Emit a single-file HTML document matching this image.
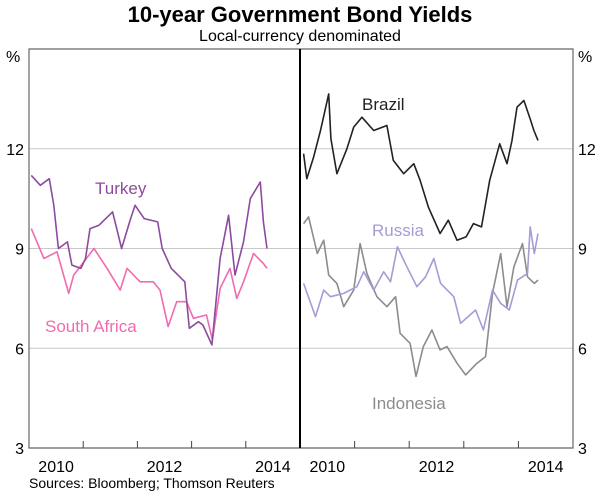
<!DOCTYPE html>
<html><head><meta charset="utf-8"><style>
body{margin:0;background:#fff}
svg text{font-family:"Liberation Sans",sans-serif}
</style></head><body>
<svg width="600" height="497" viewBox="0 0 600 497">
<text x="300" y="22" text-anchor="middle" font-size="22" font-weight="bold" fill="#000">10-year Government Bond Yields</text>
<text x="300" y="41" text-anchor="middle" font-size="16" fill="#000">Local-currency denominated</text>
<g id="grid"></g>
<g id="series"></g>
<g id="axes"></g>
<text x="29" y="488" font-size="14" fill="#000">Sources: Bloomberg; Thomson Reuters</text>
</svg>
<script>
const yTicks=[3,6,9,12];
const yearLabels=["2010","2012","2014"];
const turkeyM=[0,2,4,5,6,8,9,11,12,13,15,18,20,22,23,25,28,29,31,34,35,37,38,40,41.8,43.7,45.1,47,48.5,50.7,51.4,52.2];
const turkeyV=[11.2,10.9,11.1,10.3,9.0,9.2,8.5,8.4,8.7,9.6,9.7,10.1,9.0,9.9,10.3,9.9,9.8,9.0,8.4,8.0,6.6,6.8,6.7,6.1,8.7,10.0,8.2,9.2,10.5,11.0,9.8,9.0];
const saM=[0,2.8,5.7,8.3,9.4,13.9,16.8,19.7,21.2,24.1,27,28.5,30.3,32.2,34.4,35.9,38.8,40.1,41.8,44,45.5,47,49.2,51.4,52.2];
const saV=[9.6,8.7,8.9,7.65,8.2,9.0,8.4,7.75,8.4,8.0,8.0,7.75,6.65,7.4,7.4,6.9,7.0,6.25,7.8,8.4,7.5,8.0,8.85,8.55,8.4];
const brM=[0.3,1,2.5,4,5.8,6.3,7.6,9.8,11.3,13.1,15.7,18.6,20,22.3,24.5,25.9,27.7,30.3,32.1,34,36,37.6,39.4,41.2,43.4,45,46.1,47.2,48.7,50.2,50.9,51.8];
const brV=[11.85,11.1,11.75,12.55,13.65,12.3,11.25,12.0,12.65,12.95,12.55,12.7,11.65,11.25,11.55,11.05,10.25,9.45,9.85,9.25,9.35,9.75,9.65,11.05,12.15,11.55,12.25,13.25,13.45,12.85,12.55,12.25];
const ruM=[0.3,2.9,4.7,6.2,9.1,12,13.5,15.7,17.9,19.4,20.9,23,25.2,27.1,28.9,30.4,33.3,34.8,38.1,39.8,41.8,43.6,45.5,47.3,49.5,50.1,51,51.8];
const ruV=[7.95,6.95,7.75,7.55,7.65,7.85,8.3,7.75,8.3,8.0,9.05,8.45,7.85,8.15,8.7,7.95,7.55,6.75,7.15,6.55,7.75,7.35,7.15,8.05,8.25,9.65,8.85,9.45];
const idM=[0.3,1.4,3.3,4.7,5.8,7.6,9.1,11.3,12.7,14.2,16.4,18.6,20.5,21.5,23.7,25,26.6,28.5,30.3,31.8,34,35.9,38.4,40.3,41.8,43.6,45,46.5,48.4,49.5,51,51.8];
const idV=[9.75,9.95,8.85,9.25,8.2,7.95,7.25,7.75,9.15,8.25,7.55,7.25,7.55,6.45,6.15,5.15,6.05,6.55,5.95,6.05,5.55,5.2,5.55,5.75,7.65,8.85,7.25,8.45,9.15,8.15,7.95,8.05];
const NS="http://www.w3.org/2000/svg";
const L=29,R=573,T=49,B=448,MID=300;
const y=v=>B-(v-3)*(B-T)/12;
const xl=m=>L+(m+0.5)*(MID-L)/60;
const xr=m=>MID+(m+0.5)*(R-MID)/60;
function mk(tag,attrs,parent){const e=document.createElementNS(NS,tag);for(const k in attrs)e.setAttribute(k,attrs[k]);parent.appendChild(e);return e;}
const grid=document.getElementById('grid'),ser=document.getElementById('series'),ax=document.getElementById('axes');
yTicks.forEach(v=>{if(v>3){const g=mk('line',{x1:L,x2:R,y1:y(v),y2:y(v),stroke:'#c8c8c8','stroke-width':1},grid);

}
const t1=mk('text',{x:24,y:y(v)+6,'text-anchor':'end','font-size':16},ax);t1.textContent=v;


const t2=mk('text',{x:578,y:y(v)+6,'font-size':16},ax);t2.textContent=v;

});
[["%",6],["%",578]].forEach((p,i)=>{const t=mk('text',{x:p[1],y:62,'font-size':16},ax);t.textContent=p[0];

});
const fr=mk('path',{d:`M${L},${B}V${T}H${R}V${B}Z`,fill:'none',stroke:'#666','stroke-width':1.2},ax);


const dv=mk('line',{x1:MID,x2:MID,y1:T,y2:B,stroke:'#000','stroke-width':2},ax);


[xl,xr].forEach((fx,p)=>{for(let yr=1;yr<5;yr++){const tk=mk('line',{x1:fx(yr*12-0.5),x2:fx(yr*12-0.5),y1:B,y2:B-7,stroke:'#444','stroke-width':1},ax);

}
yearLabels.forEach((lab,i)=>{const t=mk('text',{x:fx(i*24+5.5),y:472,'text-anchor':'middle','font-size':16},ax);t.textContent=lab;

});});
function line(ms,vs,fx,col,name){const d=ms.map((m,i)=>(i?'L':'M')+fx(m).toFixed(1)+','+y(vs[i]).toFixed(1)).join('');
const p=mk('path',{d:d,fill:'none',stroke:col,'stroke-width':1.6,'stroke-linejoin':'round'},ser);

}
line(saM,saV,xl,'#f06bb0','south-africa-line');
line(turkeyM,turkeyV,xl,'#8e4a9e','turkey-line');
line(idM,idV,xr,'#8c8c8c','indonesia-line');
line(ruM,ruV,xr,'#a59cd6','russia-line');
line(brM,brV,xr,'#222','brazil-line');
[["Turkey",95,194,'#8e4a9e'],["South Africa",45,332,'#f06bb0'],["Brazil",362,110,'#222'],["Russia",372,236,'#a59cd6'],["Indonesia",372,409,'#8c8c8c']].forEach(l=>{
const t=mk('text',{x:l[1],y:l[2],'font-size':17,fill:l[3]},ax);t.textContent=l[0];

});
</script>
</body></html>
